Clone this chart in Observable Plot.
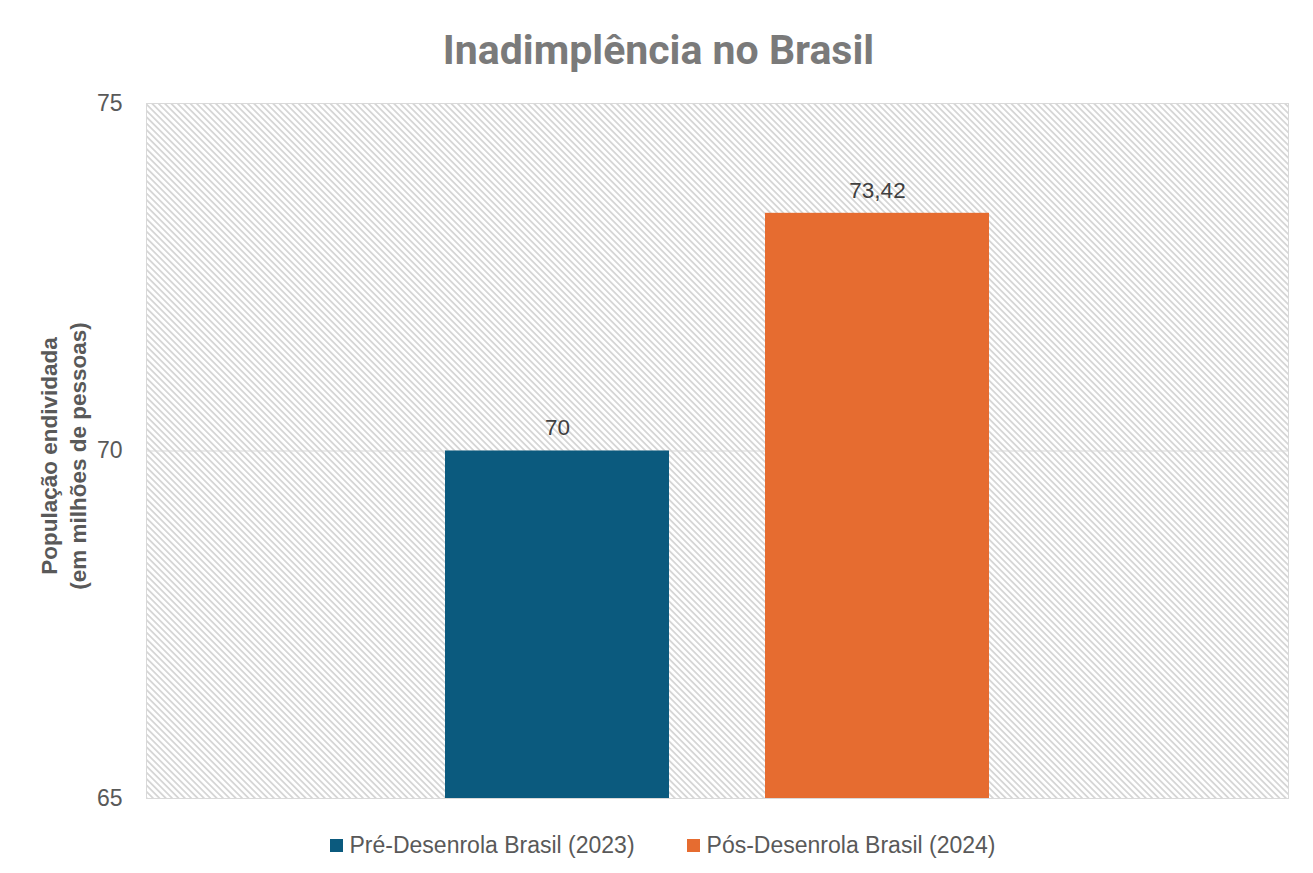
<!DOCTYPE html>
<html>
<head>
<meta charset="utf-8">
<script src="https://cdn.jsdelivr.net/npm/d3@7"></script>
<script src="https://cdn.jsdelivr.net/npm/@observablehq/plot@0.6"></script>
<style>
  body { margin: 0; background: #fff; font-family: "Liberation Sans", Arial, sans-serif; }
  #wrap { width: 1313px; height: 873px; position: relative; overflow: hidden; }
  #title { position: absolute; left: 0; top: 0; width: 1313px; height: 80px; text-align: center;
           font-family: Roboto, sans-serif; font-weight: bold; font-size: 41px; color: #7a7a7a; line-height: 100px; padding-left: 4px; box-sizing: border-box; }
  #chart { position: absolute; left: 0; top: 80px; }
  #legend { position: absolute; left: 0; top: 830px; height: 30px; width: 1313px; display: flex; justify-content: center; align-items: center;
            gap: 52px; font-size: 23px; color: #595959; padding-left: 12px; box-sizing: border-box; }
  .item { display: flex; align-items: center; gap: 7px; }
  .sw { width: 13px; height: 13px; display: inline-block; }
</style>
</head>
<body>
<div id="wrap">
  <div id="title">Inadimplência no Brasil</div>
  <div id="chart"></div>
  <div id="legend"></div>
</div>
<script>
const series = ["Pré-Desenrola Brasil (2023)", "Pós-Desenrola Brasil (2024)"];
const values = [70, 73.42];
const labels = ["70", "73,42"];
const colors = ["#0b5a7e", "#e66c30"];
const yTicks = [65, 70, 75];
const yLabel = "População endividada\n(em milhões de pessoas)";

const data = series.map((s, i) => ({series: s, value: values[i], label: labels[i]}));

const plot = Plot.plot({
  width: 1313,
  height: 740,
  marginTop: 23,
  marginBottom: 22,
  marginLeft: 146,
  marginRight: 25,
  style: {fontFamily: "'Liberation Sans', Arial, sans-serif", color: "#595959", background: "transparent"},
  x: {domain: series, axis: null, paddingInner: 0.3, paddingOuter: 0.934},
  y: {domain: [65, 75], ticks: yTicks, tickSize: 0, tickPadding: 24, label: null, tickFormat: d => String(d)},
  color: {domain: series, range: colors},
  marks: [
    Plot.frame({fill: "url(#hatch)", stroke: "#d9d9d9", strokeWidth: 1}),
    Plot.ruleY([70], {stroke: "#d9d9d9", strokeWidth: 1}),
    Plot.barY(data, {x: "series", y1: 65, y2: "value", fill: "series"}),
    Plot.text(data, {x: "series", y: "value", text: "label", dy: -23, fontSize: 22.5, fill: "#404040"}),
    Plot.axisY({ticks: yTicks, tickSize: 0, tickPadding: 24, fontSize: 23, label: null, tickFormat: d => String(d)}),
    Plot.text([yLabel], {frameAnchor: "left", textAnchor: "middle", dx: -84, dy: 5, rotate: -90, fontSize: 22.5, fontWeight: "bold", fill: "#595959", lineHeight: 1.25})
  ]
});

d3.select(plot).insert("defs", ":first-child").html(
  `<pattern id="hatch" patternUnits="userSpaceOnUse" width="4.5" height="4.5" patternTransform="rotate(-45)">
     <rect width="4.5" height="4.5" fill="#ffffff"/>
     <rect width="1.8" height="4.5" fill="#d6d6d6"/>
   </pattern>`
);
document.getElementById("chart").appendChild(plot);

const legend = d3.select("#legend");
series.forEach((s, i) => {
  const it = legend.append("div").attr("class", "item");
  it.append("span").attr("class", "sw").style("background", colors[i]);
  it.append("span").text(s);
});
</script>
</body>
</html>
